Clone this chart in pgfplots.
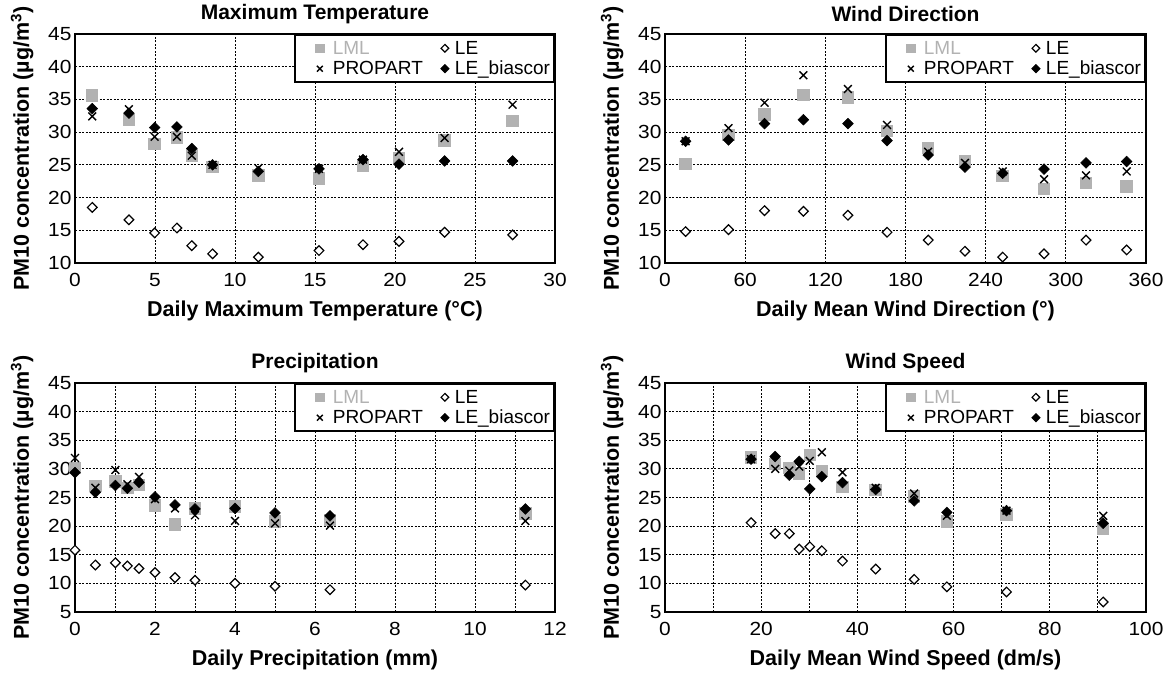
\documentclass[border=0pt]{standalone}
\usepackage{fontspec}
\setmainfont{Liberation Sans}
\newfontfamily\tickfont[FakeStretch=1.1]{Liberation Sans}
\usepackage{pgfplots}
\usepackage{pgfplotstable}
\pgfplotsset{compat=1.18}
\definecolor{lmlgray}{RGB}{178,178,178}

\pgfplotstableread{
x lml prop le bc
1.08 35.6 32.4 18.5 33.6
3.37 31.9 33.5 16.6 32.9
4.98 28.2 29.3 14.6 30.7
6.37 29.2 29.3 15.35 30.8
7.3 26.4 26.4 12.65 27.5
8.6 24.7 25.0 11.4 25.0
11.46 23.4 24.5 10.9 24.0
15.25 22.9 24.4 11.9 24.4
18.0 24.9 25.8 12.8 25.8
20.25 26.0 27.0 13.3 25.1
23.1 28.7 29.1 14.7 25.6
27.35 31.7 34.2 14.3 25.6
}\tabT

\pgfplotstableread{
x lml prop le bc
15.4 25.1 28.6 14.8 28.6
47.5 29.6 30.6 15.1 28.8
74.5 32.7 34.5 18.0 31.3
103.6 35.7 38.7 17.9 31.9
136.9 35.3 36.6 17.3 31.3
166.2 30.2 31.1 14.7 28.7
197.0 27.55 27.0 13.5 26.5
224.5 25.5 25.3 11.8 24.65
252.7 23.3 24.0 10.9 23.7
283.7 21.3 22.8 11.4 24.35
315.1 22.2 23.4 13.5 25.3
345.5 21.7 24.0 12.0 25.5
}\tabD

\pgfplotstableread{
x lml prop le bc
0 30.2 31.9 15.8 29.35
0.51 27.0 26.7 13.2 25.9
1.01 27.8 29.8 13.6 27.1
1.31 26.7 27.3 13.05 26.6
1.6 27.2 28.6 12.6 27.65
2.0 23.6 24.7 11.9 25.1
2.5 20.3 23.1 11.0 23.7
3.0 23.1 21.9 10.55 23.0
4.0 23.4 20.9 10.0 23.1
5.0 20.8 20.5 9.5 22.3
6.375 21.1 20.1 8.9 21.8
11.26 22.2 20.9 9.7 23.0
}\tabP

\pgfplotstableread{
x lml prop le bc
17.9 32.0 31.7 20.6 31.7
22.9 30.9 30.0 18.7 32.15
25.85 30.2 29.7 18.7 28.9
27.9 29.2 30.4 16.0 31.3
30.1 32.45 31.4 16.4 26.5
32.6 29.6 32.9 15.7 28.65
36.9 26.8 29.4 13.9 27.6
43.8 26.3 26.7 12.5 26.4
51.8 25.15 25.7 10.7 24.4
58.6 20.8 21.8 9.4 22.4
71.0 22.05 22.7 8.5 22.7
91.1 19.5 21.8 6.75 20.5
}\tabS

\pgfplotsset{
 leg1/.style={legend image code/.code={\path (-22pt,0pt) (10pt,0pt); \draw[##1, /tikz/every mark/.append style={scale=0.75}] plot coordinates {(0pt,0pt)};}},
 leg2/.style={legend image code/.code={\path (-5pt,0pt) (7pt,0pt); \draw[##1, /tikz/every mark/.append style={scale=0.8}] plot coordinates {(0pt,0pt)};}},
 lml/.style={leg1, only marks, color=lmlgray, mark=square*, mark size=5.7pt, mark options={fill=lmlgray, draw=lmlgray, line width=0pt}},
 le/.style={leg2, only marks, color=black, mark=square*, mark size=3.4pt, mark options={rotate=45, fill=white, draw=black, line width=1.2pt}},
 prop/.style={leg1, only marks, color=black, mark=x, mark size=5.5pt, mark options={draw=black, line width=1.4pt}},
 bc/.style={leg2, only marks, color=black, mark=square*, mark size=3.8pt, mark options={rotate=45, fill=black, draw=black, line width=0.5pt}},
 panel/.style={
  scale only axis, width=480pt, height=229pt,
  anchor=south west, clip=false,
  axis line style={line width=2pt},
  grid=both,
  major grid style={black, line width=0.9pt, dash pattern=on 2.2pt off 1.3pt},
  minor grid style={black, line width=0.9pt, dash pattern=on 2.2pt off 1.3pt},
  major tick length=0pt, minor tick length=0pt,
  ticklabel style={font=\tickfont\fontsize{19}{21}\selectfont},
  xticklabel style={yshift=-7pt},
  /pgf/number format/assume math mode=true,
  label style={font=\bfseries\fontsize{21.5}{24}\selectfont},
  title style={font=\bfseries\fontsize{21}{24}\selectfont, at={(0.5,1)}, anchor=center, yshift=14pt},
  ylabel={PM10 concentration (µg/m\textsuperscript{3})},
  ylabel style={at={(axis description cs:-0.11,0.5)}, anchor=center},
  xlabel style={at={(axis description cs:0.5,-0.21)}, anchor=center},
  legend columns=2,
  legend cell align=left,
  legend style={at={(1,1)}, anchor=north east, draw=black, line width=2pt, fill=white,
    font=\fontsize{19}{21}\selectfont, inner xsep=2pt, inner ysep=4pt, row sep=1.5pt,
    /tikz/every even column/.append style={column sep=14pt}},
 }
}

\newcommand\panelplots[1]{%
 \addplot[lml] table[x=x,y=lml] {#1};
 \addlegendentry{\textcolor{lmlgray}{LML}}
 \addplot[le] table[x=x,y=le] {#1};
 \addlegendentry{LE}
 \addplot[prop] table[x=x,y=prop] {#1};
 \addlegendentry{PROPART}
 \addplot[bc] table[x=x,y=bc] {#1};
 \addlegendentry{LE\_biascor}
}

\begin{document}
\begin{tikzpicture}
\path[use as bounding box] (0pt,0pt) rectangle (1167pt,674pt);

\begin{axis}[panel, at={(75pt,411pt)},
  title={Maximum Temperature}, xlabel={Daily Maximum Temperature (°C)},
  xmin=0, xmax=30, ymin=10, ymax=45,
  xtick={0,5,...,30}, ytick={10,15,...,45}]
 \panelplots{\tabT}
\end{axis}

\begin{axis}[panel, at={(665pt,411pt)}, width=481pt,
  title={Wind Direction}, xlabel={Daily Mean Wind Direction (°)},
  xmin=0, xmax=360, ymin=10, ymax=45,
  xtick={0,60,...,360}, ytick={10,15,...,45}]
 \panelplots{\tabD}
\end{axis}

\begin{axis}[panel, at={(75pt,62pt)},
  title={Precipitation}, xlabel={Daily Precipitation (mm)},
  xmin=0, xmax=12, ymin=5, ymax=45,
  xtick={0,2,...,12}, minor x tick num=1, ytick={5,10,...,45}]
 \panelplots{\tabP}
\end{axis}

\begin{axis}[panel, at={(665pt,62pt)}, width=481pt,
  title={Wind Speed}, xlabel={Daily Mean Wind Speed (dm/s)},
  xmin=0, xmax=100, ymin=5, ymax=45,
  xtick={0,20,...,100}, minor x tick num=1, ytick={5,10,...,45}]
 \panelplots{\tabS}
\end{axis}
\end{tikzpicture}
\end{document}
